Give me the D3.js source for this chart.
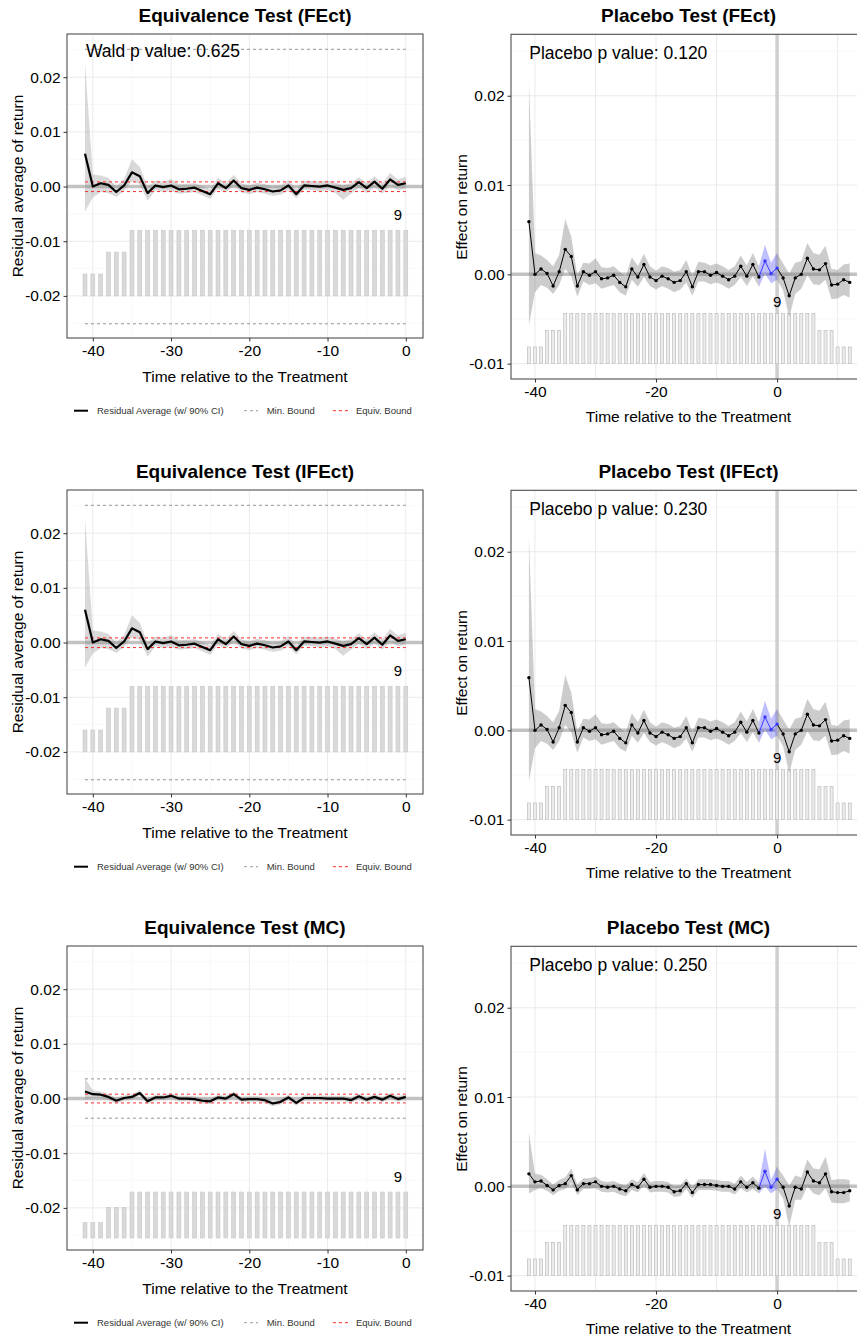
<!DOCTYPE html>
<html>
<head>
<meta charset="utf-8">
<title>Equivalence and Placebo Tests</title>
<style>
  body { margin: 0; background: #fff; }
  text { font-family: "Liberation Sans", Arial, sans-serif; }
  .grid-major line { stroke: #ebebeb; stroke-width: 1; }
  .grid-minor line { stroke: #f4f4f4; stroke-width: 0.6; }
  .axis line { stroke: #333; }
  .axis text { font-size: 15.5px; fill: #000; font-family: "Liberation Sans", Arial, sans-serif; }
</style>
</head>
<body>
<script src="https://d3js.org/d3.v7.min.js"></script>
<script>
// ---------------- data ----------------
var eqTime = [-41,-40,-39,-38,-37,-36,-35,-34,-33,-32,-31,-30,-29,-28,-27,-26,-25,-24,-23,-22,-21,
              -20,-19,-18,-17,-16,-15,-14,-13,-12,-11,-10,-9,-8,-7,-6,-5,-4,-3,-2,-1,0];
var plTime = [-41,-40,-39,-38,-37,-36,-35,-34,-33,-32,-31,-30,-29,-28,-27,-26,-25,-24,-23,-22,-21,
              -20,-19,-18,-17,-16,-15,-14,-13,-12,-11,-10,-9,-8,-7,-6,-5,-4,-3,-2,-1,0,
              1,2,3,4,5,6,7,8,9,10,11,12];

// number of treated units observed at each relative period
var eqCount = [3,3,3,6,6,6,9,9,9,9,9,9,9,9,9,9,9,9,9,9,9,9,9,9,9,9,9,9,9,9,9,9,9,9,9,9,9,9,9,9,9,9];
var plCount = [3,3,3,6,6,6,9,9,9,9,9,9,9,9,9,9,9,9,9,9,9,9,9,9,9,9,9,9,9,9,9,9,9,9,9,9,9,9,9,9,9,9,
               9,9,9,9,9,9,6,6,6,3,3,3];

// Equivalence test, FEct / IFEct residual averages (90% CI)
var eqEstFE = [0.0060,0.0000,0.0006,0.0003,-0.0010,0.0002,0.0026,0.0019,-0.0012,0.0002,-0.0001,0.0002,
               -0.0005,-0.0004,-0.0002,-0.0008,-0.0014,0.0006,-0.0003,0.0011,-0.0003,-0.0006,-0.0002,
               -0.0005,-0.0009,-0.0007,0.0002,-0.0014,0.0002,0.0001,0.0000,0.0002,-0.0002,-0.0006,
               -0.0003,0.0008,-0.0003,0.0009,-0.0004,0.0013,0.0003,0.0006];
var eqLoFE = [-0.0046,-0.0020,-0.0010,-0.0012,-0.0019,-0.0008,0.0010,0.0004,-0.0026,-0.0007,-0.0010,
              -0.0008,-0.0013,-0.0012,-0.0010,-0.0016,-0.0023,-0.0004,-0.0011,0.0001,-0.0011,-0.0014,
              -0.0010,-0.0013,-0.0017,-0.0015,-0.0007,-0.0022,-0.0006,-0.0007,-0.0009,-0.0007,-0.0012,
              -0.0024,-0.0013,-0.0002,-0.0012,-0.0001,-0.0013,0.0002,-0.0007,-0.0004];
var eqHiFE = [0.0226,0.0022,0.0020,0.0016,0.0000,0.0014,0.0050,0.0036,-0.0001,0.0011,0.0009,0.0014,
              0.0004,0.0005,0.0006,0.0001,-0.0005,0.0016,0.0006,0.0021,0.0006,0.0002,0.0007,0.0004,
              0.0000,0.0002,0.0012,-0.0005,0.0011,0.0010,0.0009,0.0011,0.0007,0.0003,0.0006,0.0017,
              0.0006,0.0019,0.0006,0.0025,0.0013,0.0018];
var equivBoundFE = [-0.00092, 0.00085];
var minBoundFE = [-0.0251, 0.0251];

// Equivalence test, MC
var eqEstMC = [0.0013,0.0008,0.0007,0.0003,-0.0004,0.0001,0.0003,0.0010,-0.0005,0.0002,0.0002,0.0005,
               0.0000,0.0000,-0.0001,-0.0004,-0.0005,0.0002,0.0000,0.0008,-0.0002,-0.0001,-0.0001,
               -0.0003,-0.0009,-0.0006,0.0002,-0.0008,0.0001,0.0001,0.0001,0.0000,0.0000,0.0000,
               -0.0003,0.0004,-0.0002,0.0003,-0.0002,0.0005,-0.0001,0.0003];
var eqLoMC = [-0.0002,0.0001,0.0001,-0.0003,-0.0009,-0.0004,-0.0002,0.0005,-0.0010,-0.0003,-0.0003,
              0.0000,-0.0005,-0.0005,-0.0006,-0.0009,-0.0010,-0.0003,-0.0005,0.0003,-0.0007,-0.0006,
              -0.0006,-0.0008,-0.0014,-0.0011,-0.0003,-0.0013,-0.0004,-0.0004,-0.0004,-0.0005,-0.0005,
              -0.0005,-0.0008,-0.0001,-0.0007,-0.0002,-0.0007,0.0000,-0.0006,-0.0002];
var eqHiMC = [0.0037,0.0015,0.0013,0.0009,0.0001,0.0006,0.0008,0.0015,0.0000,0.0007,0.0007,0.0010,
              0.0005,0.0005,0.0004,0.0001,0.0000,0.0007,0.0005,0.0013,0.0003,0.0004,0.0004,0.0002,
              -0.0004,-0.0001,0.0007,-0.0003,0.0006,0.0006,0.0006,0.0005,0.0005,0.0005,0.0002,0.0009,
              0.0003,0.0008,0.0003,0.0010,0.0004,0.0008];
var equivBoundMC = [-0.0008, 0.0008];
var minBoundMC = [-0.0036, 0.0036];

// Placebo test, FEct / IFEct
var plEstFE = [0.0059,0.0000,0.0006,0.0001,-0.0013,0.0003,0.0028,0.0020,-0.0013,0.0003,-0.0001,0.0003,
               -0.0005,-0.0004,-0.0001,-0.0009,-0.0014,0.0006,-0.0003,0.0011,-0.0003,-0.0007,-0.0002,
               -0.0005,-0.0009,-0.0007,0.0003,-0.0014,0.0003,0.0003,-0.0001,0.0002,-0.0002,-0.0006,
               -0.0002,0.0009,-0.0002,0.0011,-0.0003,0.0015,0.0001,0.0007,
               -0.0004,-0.0024,-0.0004,0.0000,0.0018,0.0006,0.0005,0.0012,-0.0012,-0.0011,-0.0006,-0.0009];
var plLoFE = [-0.0057,-0.0020,-0.0012,-0.0015,-0.0022,-0.0012,0.0006,-0.0002,-0.0025,-0.0008,-0.0012,
              -0.0010,-0.0016,-0.0014,-0.0012,-0.0020,-0.0024,-0.0006,-0.0014,-0.0003,-0.0013,-0.0017,
              -0.0013,-0.0016,-0.0020,-0.0017,-0.0009,-0.0024,-0.0008,-0.0008,-0.0011,-0.0009,-0.0012,
              -0.0016,-0.0012,-0.0003,-0.0013,-0.0002,-0.0014,0.0001,-0.0010,-0.0006,
              -0.0018,-0.0048,-0.0022,-0.0016,-0.0001,-0.0011,-0.0012,-0.0006,-0.0028,-0.0027,-0.0023,-0.0026];
var plHiFE = [0.0215,0.0024,0.0021,0.0016,0.0009,0.0022,0.0062,0.0042,-0.0001,0.0013,0.0012,0.0018,
              0.0008,0.0007,0.0009,0.0003,-0.0002,0.0019,0.0009,0.0023,0.0009,0.0004,0.0009,0.0007,
              0.0003,0.0005,0.0016,-0.0002,0.0014,0.0013,0.0010,0.0012,0.0009,0.0005,0.0009,0.0021,
              0.0010,0.0024,0.0009,0.0033,0.0013,0.0024,
              0.0012,0.0001,0.0013,0.0015,0.0035,0.0024,0.0022,0.0032,0.0006,0.0005,0.0011,0.0012];

// Placebo test, MC
var plEstMC = [0.0014,0.0005,0.0006,0.0001,-0.0004,0.0001,0.0003,0.0012,-0.0004,0.0003,0.0003,0.0005,
               0.0000,-0.0001,0.0000,-0.0003,-0.0005,0.0002,-0.0001,0.0008,-0.0001,0.0000,0.0000,
               -0.0001,-0.0006,-0.0005,0.0003,-0.0007,0.0002,0.0002,0.0002,0.0001,0.0000,0.0000,
               -0.0003,0.0005,-0.0001,0.0004,-0.0002,0.0017,-0.0001,0.0008,
               -0.0001,-0.0022,-0.0001,-0.0003,0.0016,0.0006,0.0004,0.0014,-0.0006,-0.0007,-0.0007,-0.0005];
var plLoMC = [-0.0008,-0.0004,-0.0002,-0.0005,-0.0010,-0.0005,-0.0003,0.0004,-0.0010,-0.0003,-0.0003,
              -0.0002,-0.0006,-0.0007,-0.0006,-0.0009,-0.0011,-0.0004,-0.0007,0.0001,-0.0007,-0.0006,
              -0.0006,-0.0007,-0.0012,-0.0011,-0.0003,-0.0013,-0.0004,-0.0004,-0.0004,-0.0005,-0.0006,
              -0.0006,-0.0009,-0.0002,-0.0007,-0.0003,-0.0008,0.0000,-0.0008,-0.0003,
              -0.0014,-0.0045,-0.0015,-0.0015,0.0000,-0.0008,-0.0010,-0.0002,-0.0018,-0.0019,-0.0019,-0.0017];
var plHiMC = [0.0060,0.0014,0.0013,0.0008,0.0002,0.0007,0.0010,0.0020,0.0002,0.0009,0.0009,0.0011,
              0.0006,0.0005,0.0006,0.0003,0.0001,0.0008,0.0005,0.0015,0.0005,0.0006,0.0006,0.0005,
              0.0000,0.0001,0.0009,-0.0001,0.0008,0.0008,0.0008,0.0007,0.0006,0.0006,0.0003,0.0012,
              0.0005,0.0011,0.0004,0.0042,0.0007,0.0022,
              0.0012,0.0001,0.0012,0.0010,0.0030,0.0020,0.0019,0.0033,0.0007,0.0008,0.0008,0.0007];

var placeboPeriod = [-2, 0];

var panelTitles = [
  ["Equivalence Test (FEct)", "Placebo Test (FEct)"],
  ["Equivalence Test (IFEct)", "Placebo Test (IFEct)"],
  ["Equivalence Test (MC)", "Placebo Test (MC)"]
];
var waldText = ["Wald p value: 0.625", null, null];
var placeboText = ["Placebo p value: 0.120", "Placebo p value: 0.230", "Placebo p value: 0.250"];

var eqXTicks = [-40, -30, -20, -10, 0];
var eqXMinor = [-35, -25, -15, -5];
var eqYTicks = [-0.02, -0.01, 0, 0.01, 0.02];
var eqYMinor = [-0.025, -0.015, -0.005, 0.005, 0.015, 0.025];
var plXTicks = [-40, -20, 0];
var plXMinor = [-30, -10, 10];
var plYTicks = [-0.01, 0, 0.01, 0.02];
var plYMinor = [-0.005, 0.005, 0.015, 0.025];

var legendLabels = ["Residual Average (w/ 90% CI)", "Min. Bound", "Equiv. Bound"];

// count bars base / top of tallest bar, per equivalence panel
var eqBarRange = [[-0.02, -0.008], [-0.02, -0.008], [-0.0255, -0.0171]];
var plBarRange = [-0.01, -0.0044];

/*********************************
 * Setup
 *********************************/
var svg = d3.select("body").append("svg")
    .attr("width", 857)
    .attr("height", 1339);

var rowOffsets = [0, 456, 912];

function zip(t, a, b, c) {
  return t.map(function(d, i) { return {t: d, est: a[i], lo: b[i], hi: c[i]}; });
}

function drawGrid(g, x, y, xs, ys, cls) {
  var gg = g.append("g").attr("class", cls);
  gg.selectAll(null).data(xs).enter().append("line")
    .attr("x1", function(d) { return x(d); }).attr("x2", function(d) { return x(d); })
    .attr("y1", y.range()[0]).attr("y2", y.range()[1]);
  gg.selectAll(null).data(ys).enter().append("line")
    .attr("y1", function(d) { return y(d); }).attr("y2", function(d) { return y(d); })
    .attr("x1", x.range()[0]).attr("x2", x.range()[1]);
}

function drawAxes(g, x, y, xt, yt) {
  g.append("g").attr("class", "axis")
    .attr("transform", "translate(0," + y.range()[0] + ")")
    .call(d3.axisBottom(x).tickValues(xt).tickSize(3.5).tickPadding(3)
      .tickFormat(function(d) { return String(d); }))
    .call(function(a) { a.select(".domain").remove(); });
  g.append("g").attr("class", "axis")
    .attr("transform", "translate(" + x.range()[0] + ",0)")
    .call(d3.axisLeft(y).tickValues(yt).tickSize(3.5).tickPadding(3)
      .tickFormat(function(d) { return d.toFixed(2); }))
    .call(function(a) { a.select(".domain").remove(); });
}

function drawBars(g, x, y, times, counts, range, fill, stroke) {
  var maxC = d3.max(counts);
  var h = d3.scaleLinear().domain([0, maxC]).range([range[0], range[1]]);
  g.append("g").selectAll("rect").data(times).enter().append("rect")
    .attr("x", function(d) { return x(d - 0.25); })
    .attr("width", function(d) { return x(0.5) - x(0); })
    .attr("y", function(d, i) { return y(h(counts[i])); })
    .attr("height", function(d, i) { return y(range[0]) - y(h(counts[i])); })
    .attr("fill", fill)
    .attr("stroke", stroke)
    .attr("stroke-width", 0.6);
  return maxC;
}

/*********************************
 * Equivalence panels
 *********************************/
function equivalencePanel(row, est, lo, hi, equivB, minB, barRange) {
  var g = svg.append("g").attr("transform", "translate(0," + rowOffsets[row] + ")");
  var x = d3.scaleLinear().domain([-43.3, 2.2]).range([67, 423]);
  var y = d3.scaleLinear().domain([-0.0277, 0.0279]).range([338, 34]);
  var data = zip(eqTime, est, lo, hi);
  var clipId = "clip-eq-" + row;
  g.append("clipPath").attr("id", clipId).append("rect")
    .attr("x", 67).attr("y", 34).attr("width", 356).attr("height", 304);

  drawGrid(g, x, y, eqXMinor, eqYMinor, "grid-minor");
  drawGrid(g, x, y, eqXTicks, eqYTicks, "grid-major");

  var p = g.append("g").attr("clip-path", "url(#" + clipId + ")");

  // zero line
  p.append("line").attr("x1", 67).attr("x2", 423).attr("y1", y(0)).attr("y2", y(0))
    .attr("stroke", "#c2c2c2").attr("stroke-width", 3.5);

  // min bound
  minB.forEach(function(b) {
    p.append("line").attr("x1", x(eqTime[0])).attr("x2", x(eqTime[eqTime.length - 1]))
      .attr("y1", y(b)).attr("y2", y(b))
      .attr("stroke", "#8c8c8c").attr("stroke-width", 0.9).attr("stroke-dasharray", "3,3");
  });

  // count bars
  var maxC = drawBars(p, x, y, eqTime, eqCount, barRange, "#d9d9d9", "#c6c6c6");

  // ribbon
  p.append("path").datum(data)
    .attr("d", d3.area().x(function(d) { return x(d.t); })
      .y0(function(d) { return y(d.lo); }).y1(function(d) { return y(d.hi); }))
    .attr("fill", "#808080").attr("fill-opacity", 0.3);

  // equivalence bound
  equivB.forEach(function(b) {
    p.append("line").attr("x1", x(eqTime[0])).attr("x2", x(eqTime[eqTime.length - 1]))
      .attr("y1", y(b)).attr("y2", y(b))
      .attr("stroke", "#ff2b2b").attr("stroke-width", 1).attr("stroke-dasharray", "3,3");
  });

  // residual average
  p.append("path").datum(data)
    .attr("d", d3.line().x(function(d) { return x(d.t); }).y(function(d) { return y(d.est); }))
    .attr("fill", "none").attr("stroke", "#000").attr("stroke-width", 2.2)
    .attr("stroke-linejoin", "round");

  // count label
  g.append("text").attr("x", x(-1)).attr("y", y(barRange[1]) - 10)
    .attr("text-anchor", "middle").attr("font-size", 15).text(maxC);

  if (waldText[row]) {
    g.append("text").attr("x", 86).attr("y", 57).attr("font-size", 17.5).text(waldText[row]);
  }

  // border
  g.append("rect").attr("x", 67).attr("y", 34).attr("width", 356).attr("height", 304)
    .attr("fill", "none").attr("stroke", "#4d4d4d").attr("stroke-width", 1.1);

  drawAxes(g, x, y, eqXTicks, eqYTicks);

  g.append("text").attr("x", 245).attr("y", 21.5).attr("text-anchor", "middle")
    .attr("font-size", 19).attr("font-weight", "bold").text(panelTitles[row][0]);
  g.append("text").attr("x", 245).attr("y", 381.5).attr("text-anchor", "middle")
    .attr("font-size", 15.5).text("Time relative to the Treatment");
  g.append("text").attr("transform", "translate(23,186) rotate(-90)")
    .attr("text-anchor", "middle").attr("font-size", 15.5).text("Residual average of return");

  // legend
  var ly = 410.7;
  var lg = g.append("g").attr("font-size", 9.5).attr("fill", "#333");
  lg.append("line").attr("x1", 74).attr("x2", 88).attr("y1", ly).attr("y2", ly)
    .attr("stroke", "#000").attr("stroke-width", 2);
  lg.append("text").attr("x", 97).attr("y", ly + 3.4).text(legendLabels[0]);
  lg.append("line").attr("x1", 244).attr("x2", 258).attr("y1", ly).attr("y2", ly)
    .attr("stroke", "#8c8c8c").attr("stroke-width", 0.9).attr("stroke-dasharray", "3,3");
  lg.append("text").attr("x", 266.7).attr("y", ly + 3.4).text(legendLabels[1]);
  lg.append("line").attr("x1", 333).attr("x2", 348).attr("y1", ly).attr("y2", ly)
    .attr("stroke", "#ff2b2b").attr("stroke-width", 1).attr("stroke-dasharray", "3,3");
  lg.append("text").attr("x", 356).attr("y", ly + 3.4).text(legendLabels[2]);
}

/*********************************
 * Placebo panels
 *********************************/
function placeboPanel(row, est, lo, hi) {
  var g = svg.append("g").attr("transform", "translate(0," + rowOffsets[row] + ")");
  var x = d3.scaleLinear().domain([-43.96, 14.69]).range([511, 866]);
  var y = d3.scaleLinear().domain([-0.01172, 0.02688]).range([379, 34.3]);
  var data = zip(plTime, est, lo, hi);
  var clipId = "clip-pl-" + row;
  g.append("clipPath").attr("id", clipId).append("rect")
    .attr("x", 511).attr("y", 34.3).attr("width", 355).attr("height", 344.7);

  drawGrid(g, x, y, plXMinor, plYMinor, "grid-minor");
  drawGrid(g, x, y, plXTicks.concat(plXMinor), plYTicks, "grid-major");

  var p = g.append("g").attr("clip-path", "url(#" + clipId + ")");

  p.append("line").attr("x1", 511).attr("x2", 866).attr("y1", y(0)).attr("y2", y(0))
    .attr("stroke", "#c2c2c2").attr("stroke-width", 3.5);
  p.append("line").attr("x1", x(0)).attr("x2", x(0)).attr("y1", 34.3).attr("y2", 379)
    .attr("stroke", "#cfcfcf").attr("stroke-width", 3.5);

  var maxC = drawBars(p, x, y, plTime, plCount, plBarRange, "#ececec", "#b5b5b5");

  var p0 = placeboPeriod[0], p1 = placeboPeriod[1];
  var pre = data.filter(function(d) { return d.t <= p0 - 1; });
  var mid = data.filter(function(d) { return d.t >= p0 - 1 && d.t <= p1; });
  var post = data.filter(function(d) { return d.t >= p1; });

  var area = d3.area().x(function(d) { return x(d.t); })
    .y0(function(d) { return y(d.lo); }).y1(function(d) { return y(d.hi); });
  var line = d3.line().x(function(d) { return x(d.t); }).y(function(d) { return y(d.est); });

  [pre, post].forEach(function(s) {
    p.append("path").datum(s).attr("d", area).attr("fill", "#737373").attr("fill-opacity", 0.36);
  });
  p.append("path").datum(mid).attr("d", area).attr("fill", "#3030ff").attr("fill-opacity", 0.3);

  [pre, post].forEach(function(s) {
    p.append("path").datum(s).attr("d", line).attr("fill", "none")
      .attr("stroke", "#000").attr("stroke-width", 1);
  });
  p.append("path").datum(mid).attr("d", line).attr("fill", "none")
    .attr("stroke", "#3a3aff").attr("stroke-width", 1);

  p.append("g").selectAll("circle").data(data).enter().append("circle")
    .attr("cx", function(d) { return x(d.t); })
    .attr("cy", function(d) { return y(d.est); })
    .attr("r", 1.7)
    .attr("fill", function(d) { return (d.t >= p0 && d.t <= p1) ? "#3a3aff" : "#000"; });

  g.append("text").attr("x", x(0)).attr("y", y(plBarRange[1]) - 6.5)
    .attr("text-anchor", "middle").attr("font-size", 15).text(maxC);

  g.append("text").attr("x", 529.3).attr("y", 58.5).attr("font-size", 17.5).text(placeboText[row]);

  g.append("rect").attr("x", 511).attr("y", 34.3).attr("width", 355).attr("height", 344.7)
    .attr("fill", "none").attr("stroke", "#4d4d4d").attr("stroke-width", 1.1);

  drawAxes(g, x, y, plXTicks, plYTicks);

  g.append("text").attr("x", 688.5).attr("y", 21.5).attr("text-anchor", "middle")
    .attr("font-size", 19).attr("font-weight", "bold").text(panelTitles[row][1]);
  g.append("text").attr("x", 688.5).attr("y", 422).attr("text-anchor", "middle")
    .attr("font-size", 15.5).text("Time relative to the Treatment");
  g.append("text").attr("transform", "translate(467,207) rotate(-90)")
    .attr("text-anchor", "middle").attr("font-size", 15.5).text("Effect on return");
}

equivalencePanel(0, eqEstFE, eqLoFE, eqHiFE, equivBoundFE, minBoundFE, eqBarRange[0]);
equivalencePanel(1, eqEstFE, eqLoFE, eqHiFE, equivBoundFE, minBoundFE, eqBarRange[1]);
equivalencePanel(2, eqEstMC, eqLoMC, eqHiMC, equivBoundMC, minBoundMC, eqBarRange[2]);
placeboPanel(0, plEstFE, plLoFE, plHiFE);
placeboPanel(1, plEstFE, plLoFE, plHiFE);
placeboPanel(2, plEstMC, plLoMC, plHiMC);
</script>
</body>
</html>
